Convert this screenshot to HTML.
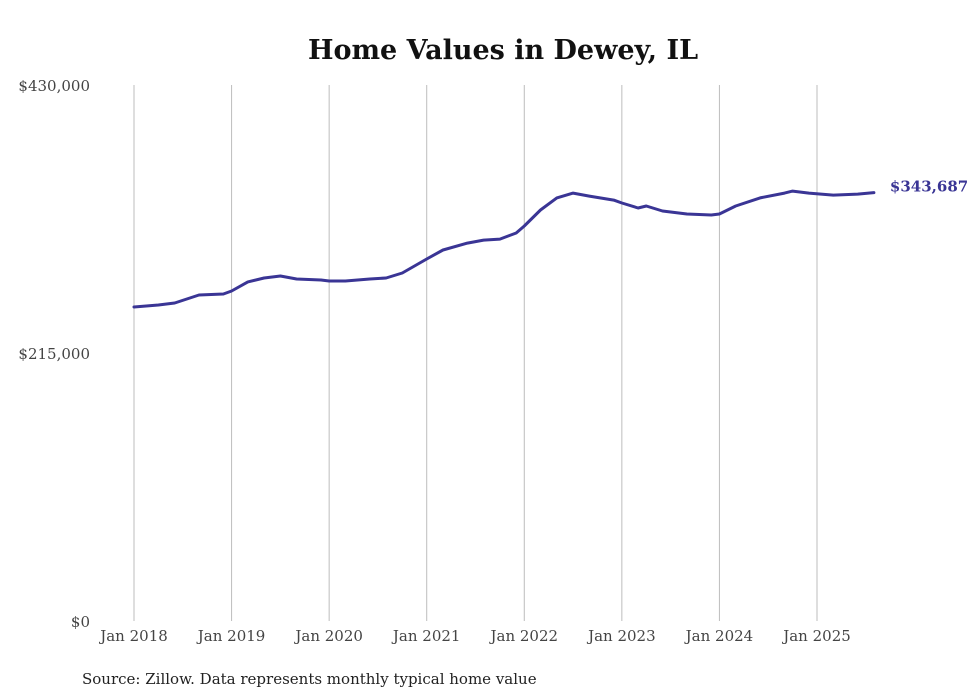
<!DOCTYPE html>
<html><head><meta charset="utf-8"><style>
body{margin:0;background:#fff;}
svg{display:block;font-family:"DejaVu Serif","Liberation Serif",serif;}
</style></head><body>
<svg width="980" height="699">
<text x="503" y="59" text-anchor="middle" font-size="27" font-weight="bold" fill="#111">Home Values in Dewey, IL</text>
<g id="grid"></g><g id="yaxis"></g><g id="xaxis"></g>
<path id="line" fill="none" stroke="#3a3595" stroke-width="3" stroke-linejoin="round" stroke-linecap="round"></path>
<text id="endlabel" font-size="15" font-weight="bold" fill="#3a3595"></text>
<text x="82" y="684" font-size="15" fill="#222">Source: Zillow. Data represents monthly typical home value</text>
</svg>
<script>
const months=[0,3,5,8,11,12,14,16,18,20,23,24,26,29,31,33,36,38,41,43,45,47,48,50,52,54,56,59,60,62,63,65,68,71,72,74,77,80,81,83,86,89,91];
const values=[251900,253500,255100,261500,262300,264700,272000,275200,276800,274400,273600,272800,272800,274400,275200,279200,290400,297600,303200,305600,306400,311300,316900,329700,339400,343300,340900,337700,335300,331300,332900,328900,326500,325700,326500,332900,339400,343300,344900,343300,341700,342500,343687];
const yTicks=[0,215000,430000];
const yTickLabels=["$0","$215,000","$430,000"];
const xTickYears=["Jan 2018","Jan 2019","Jan 2020","Jan 2021","Jan 2022","Jan 2023","Jan 2024","Jan 2025"];
const latestLabel="$343,687";
const NS="http://www.w3.org/2000/svg";
const x=m=>134+m*(817-134)/84;
const y=v=>621-v*(621-85)/430000;
function mk(tag,attrs,parent,text){const e=document.createElementNS(NS,tag);for(const k in attrs)e.setAttribute(k,attrs[k]);if(text!==undefined)e.textContent=text;document.getElementById(parent).appendChild(e);return e;}
xTickYears.forEach((t,i)=>{
  const xx=x(i*12);
  const g=mk('line',{x1:xx,x2:xx,y1:85,y2:621,stroke:'#bdbdbd','stroke-width':1},'grid');
  
  
  const l=mk('text',{x:xx,y:641,'text-anchor':'middle','font-size':15,fill:'#444'},'xaxis',t);
  
  
});
yTicks.forEach((v,i)=>{
  const l=mk('text',{x:90,y:y(v)+6,'text-anchor':'end','font-size':15,fill:'#444'},'yaxis',yTickLabels[i]);
  
  
});
document.getElementById('line').setAttribute('d',months.map((m,i)=>(i?'L':'M')+x(m).toFixed(1)+','+y(values[i]).toFixed(1)).join(''));
const el=document.getElementById('endlabel');
el.setAttribute('x',x(months[months.length-1])+16);
el.setAttribute('y',y(values[values.length-1])-1);
el.textContent=latestLabel;
</script>
</body></html>
